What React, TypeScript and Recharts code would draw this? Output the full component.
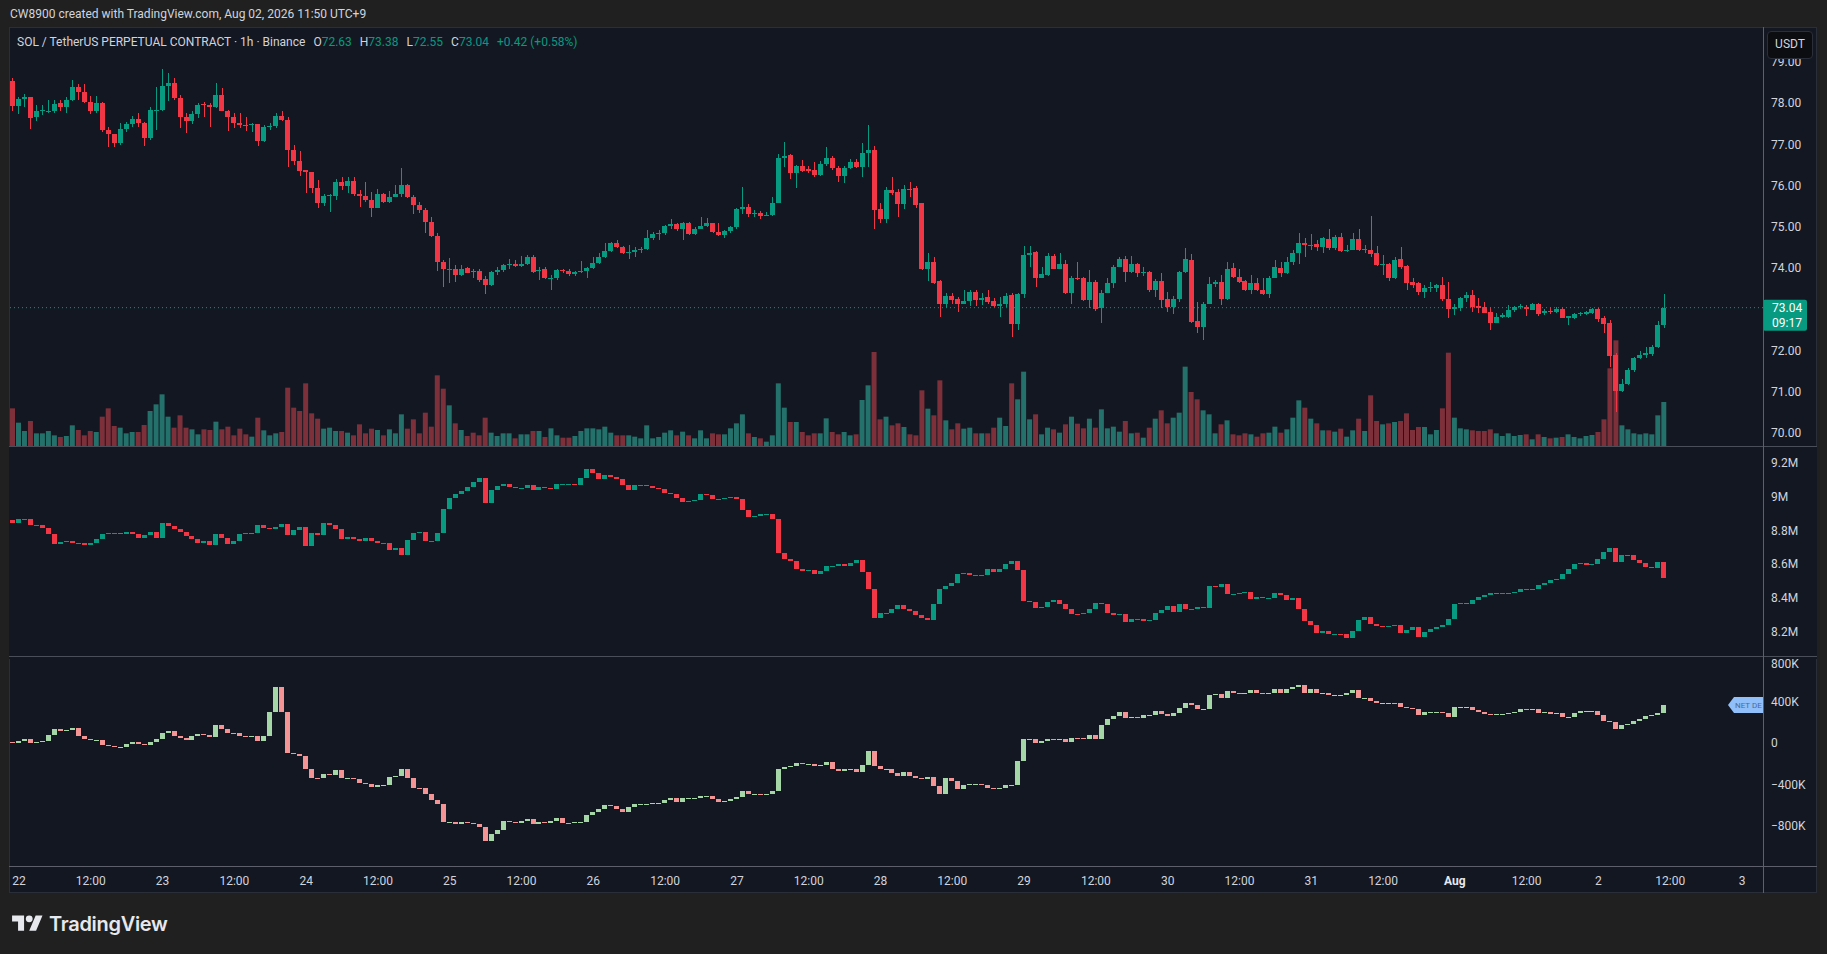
import React from 'react';
import { ComposedChart, Bar, XAxis, YAxis, Cell, ReferenceLine } from 'recharts';

// SOL/USDT perp, 1h candles, Jul 21 23:00 -> Aug 2 11:00 (UTC+9)
const priceOpen = [
  78.55, 77.94, 78.10, 78.16, 77.66, 77.82, 77.81, 77.82, 78.00, 77.92,
  78.08, 78.39, 78.28, 78.04, 77.80, 78.01, 77.35, 77.25, 77.04, 77.37,
  77.50, 77.61, 77.51, 77.16, 77.83, 77.84, 78.42, 78.50, 78.12, 77.67,
  77.57, 77.74, 77.98, 77.95, 77.90, 78.20, 77.82, 77.67, 77.53, 77.47,
  77.46, 77.50, 77.08, 77.42, 77.45, 77.69, 77.59, 76.87, 76.61, 76.38,
  76.32, 75.94, 75.59, 75.75, 75.75, 76.10, 75.98, 76.12, 75.80, 75.75,
  75.65, 75.45, 75.80, 75.61, 75.73, 75.80, 76.02, 75.72, 75.53, 75.41,
  75.13, 74.78, 74.16, 73.97, 73.97, 73.83, 74.00, 73.94, 73.93, 73.73,
  73.59, 73.90, 73.95, 74.07, 74.10, 74.05, 74.10, 74.28, 73.93, 73.97,
  73.75, 73.76, 73.95, 73.94, 73.86, 73.91, 73.94, 74.00, 74.13, 74.26,
  74.42, 74.62, 74.50, 74.37, 74.40, 74.44, 74.46, 74.74, 74.83, 74.86,
  75.01, 75.06, 74.96, 75.10, 74.82, 74.94, 75.02, 75.10, 74.88, 74.80,
  74.90, 75.00, 75.44, 75.49, 75.31, 75.34, 75.27, 75.30, 75.59, 76.68,
  76.75, 76.30, 76.48, 76.40, 76.38, 76.25, 76.53, 76.68, 76.43, 76.23,
  76.44, 76.57, 76.46, 76.80, 76.86, 75.43, 75.18, 75.90, 75.85, 75.55,
  75.93, 75.95, 75.59, 73.97, 74.16, 73.69, 73.13, 73.32, 73.24, 73.14,
  73.20, 73.43, 73.22, 73.30, 73.21, 73.09, 73.12, 73.34, 72.64, 73.37,
  74.32, 74.40, 73.77, 73.83, 74.29, 73.99, 74.10, 73.39, 73.75, 73.75,
  73.23, 73.67, 73.02, 73.40, 73.63, 74.03, 74.21, 73.90, 74.10, 73.87,
  73.90, 73.47, 73.69, 73.24, 73.06, 73.26, 73.90, 74.20, 72.72, 72.58,
  73.14, 73.61, 73.67, 73.24, 74.00, 73.79, 73.69, 73.47, 73.64, 73.48,
  73.37, 73.77, 74.00, 73.87, 74.16, 74.36, 74.62, 74.56, 74.58, 74.52,
  74.70, 74.48, 74.75, 74.42, 74.45, 74.70, 74.45, 74.45, 74.37, 74.07,
  74.10, 73.75, 74.21, 74.05, 73.66, 73.63, 73.43, 73.51, 73.51, 73.59,
  73.26, 73.00, 73.03, 73.27, 73.35, 73.07, 73.06, 72.94, 72.67, 72.82,
  72.82, 72.98, 73.05, 73.06, 72.99, 73.13, 72.90, 72.97, 72.93, 73.00,
  72.80, 72.80, 72.88, 72.89, 72.92, 73.00, 72.78, 72.66, 71.89, 71.02,
  71.20, 71.53, 71.81, 71.89, 71.92, 72.08, 72.63,
];

const priceHigh = [
  78.61, 78.16, 78.22, 78.16, 77.96, 77.96, 78.08, 78.08, 78.08, 78.14,
  78.56, 78.47, 78.47, 78.18, 78.18, 78.04, 77.43, 77.25, 77.51, 77.55,
  77.69, 77.76, 77.55, 77.90, 78.39, 78.82, 78.74, 78.61, 78.20, 77.76,
  77.80, 78.01, 78.04, 78.00, 78.50, 78.36, 77.84, 77.76, 77.76, 77.66,
  77.53, 77.50, 77.47, 77.51, 77.77, 77.82, 77.67, 76.99, 76.83, 76.38,
  76.34, 76.14, 75.80, 75.80, 76.15, 76.22, 76.22, 76.22, 75.89, 76.10,
  75.85, 75.91, 75.81, 75.88, 76.02, 76.42, 76.04, 75.77, 75.61, 75.45,
  75.25, 74.86, 74.20, 74.24, 74.07, 74.07, 74.03, 73.99, 73.97, 73.81,
  73.94, 74.03, 74.10, 74.21, 74.20, 74.29, 74.32, 74.32, 74.02, 74.02,
  73.83, 73.99, 73.99, 73.99, 73.94, 74.18, 74.03, 74.26, 74.37, 74.62,
  74.64, 74.68, 74.54, 74.56, 74.50, 74.50, 74.92, 74.88, 74.92, 75.05,
  75.18, 75.10, 75.13, 75.13, 75.00, 75.23, 75.21, 75.10, 75.09, 74.92,
  75.02, 75.47, 75.96, 75.56, 75.41, 75.39, 75.37, 75.73, 76.77, 77.07,
  76.76, 76.50, 76.62, 76.48, 76.58, 76.61, 76.93, 76.72, 76.48, 76.48,
  76.64, 76.64, 77.03, 77.47, 76.96, 75.59, 75.96, 76.22, 75.91, 76.02,
  76.10, 75.98, 75.59, 74.37, 74.26, 73.71, 73.40, 73.39, 73.29, 73.48,
  73.47, 73.47, 73.39, 73.47, 73.27, 73.29, 73.39, 73.39, 73.39, 74.54,
  74.54, 74.42, 74.03, 74.37, 74.34, 74.37, 74.20, 73.81, 74.16, 73.79,
  73.95, 73.71, 73.47, 73.75, 74.07, 74.26, 74.29, 74.29, 74.12, 74.03,
  73.94, 73.73, 73.87, 73.43, 73.32, 73.94, 74.48, 74.34, 73.18, 73.18,
  73.79, 73.71, 73.83, 74.16, 74.12, 73.97, 73.71, 73.83, 73.75, 73.77,
  73.81, 74.20, 74.16, 74.28, 74.44, 74.86, 74.72, 74.83, 74.68, 74.76,
  74.94, 74.80, 74.86, 74.56, 74.84, 74.94, 74.56, 75.26, 74.54, 74.32,
  74.12, 74.28, 74.52, 74.07, 73.75, 73.67, 73.59, 73.67, 73.61, 73.78,
  73.67, 73.14, 73.31, 73.43, 73.47, 73.27, 73.18, 73.06, 72.92, 72.92,
  73.10, 73.08, 73.13, 73.10, 73.16, 73.16, 73.00, 73.06, 73.05, 73.05,
  72.84, 72.92, 72.94, 72.97, 73.03, 73.02, 72.84, 72.74, 71.93, 71.32,
  71.57, 71.85, 72.00, 72.09, 72.13, 72.72, 73.38,
];

const priceLow = [
  77.82, 77.74, 77.92, 77.38, 77.57, 77.72, 77.76, 77.77, 77.80, 77.77,
  78.06, 78.08, 78.01, 77.74, 77.76, 77.31, 76.95, 76.95, 76.99, 77.31,
  77.43, 77.43, 76.97, 77.11, 77.35, 77.80, 78.06, 78.08, 77.39, 77.27,
  77.50, 77.63, 77.67, 77.43, 77.88, 77.80, 77.33, 77.39, 77.39, 77.33,
  77.31, 76.96, 77.07, 77.35, 77.39, 77.58, 76.45, 76.50, 76.23, 75.81,
  75.81, 75.45, 75.51, 75.37, 75.65, 75.89, 75.81, 75.75, 75.49, 75.61,
  75.23, 75.45, 75.57, 75.57, 75.73, 75.73, 75.69, 75.31, 75.34, 74.86,
  74.75, 73.94, 73.55, 73.65, 73.67, 73.81, 73.87, 73.75, 73.67, 73.37,
  73.57, 73.83, 73.90, 73.99, 74.02, 74.02, 74.07, 73.87, 73.71, 73.73,
  73.48, 73.71, 73.87, 73.81, 73.81, 73.89, 73.75, 73.97, 74.10, 74.24,
  74.40, 74.48, 74.34, 74.21, 74.26, 74.37, 74.44, 74.68, 74.68, 74.80,
  74.94, 74.91, 74.68, 74.80, 74.80, 74.94, 75.00, 74.86, 74.78, 74.74,
  74.84, 74.96, 75.31, 75.25, 75.23, 75.20, 75.26, 75.26, 75.57, 76.46,
  76.16, 75.94, 76.34, 76.30, 76.22, 76.23, 76.48, 76.38, 76.10, 76.07,
  76.40, 76.44, 76.22, 76.46, 74.96, 75.10, 75.10, 75.77, 75.23, 75.43,
  75.73, 75.47, 73.95, 73.69, 73.61, 72.82, 73.02, 73.14, 72.94, 73.13,
  73.08, 73.08, 73.10, 73.14, 73.06, 72.82, 73.06, 72.32, 72.50, 73.27,
  74.02, 73.53, 73.75, 73.81, 73.97, 73.97, 73.37, 73.14, 73.71, 73.21,
  73.02, 72.97, 72.67, 73.39, 73.51, 74.02, 73.67, 73.87, 73.78, 73.81,
  73.43, 73.31, 73.02, 72.94, 72.89, 73.18, 73.87, 72.68, 72.42, 72.25,
  73.13, 73.55, 73.10, 73.23, 73.75, 73.63, 73.45, 73.37, 73.45, 73.35,
  73.27, 73.75, 73.79, 73.86, 74.07, 74.10, 74.26, 74.44, 74.42, 74.37,
  74.44, 74.45, 74.40, 74.40, 74.44, 74.42, 74.37, 74.26, 74.05, 73.83,
  73.69, 73.73, 73.99, 73.47, 73.51, 73.35, 73.27, 73.43, 73.43, 73.21,
  72.78, 72.86, 72.97, 73.18, 72.94, 72.90, 72.90, 72.51, 72.66, 72.78,
  72.80, 72.94, 73.00, 72.84, 72.98, 72.84, 72.86, 72.89, 72.90, 72.78,
  72.62, 72.76, 72.84, 72.86, 72.89, 72.70, 72.42, 71.59, 70.52, 71.00,
  71.16, 71.49, 71.79, 71.81, 71.87, 72.05, 72.55,
];

const priceClose = [
  77.94, 78.10, 78.14, 77.65, 77.82, 77.84, 77.82, 77.98, 77.92, 78.08,
  78.39, 78.28, 78.04, 77.80, 78.01, 77.35, 77.25, 77.04, 77.37, 77.50,
  77.61, 77.51, 77.16, 77.84, 77.84, 78.42, 78.50, 78.12, 77.67, 77.57,
  77.74, 77.96, 77.95, 77.90, 78.20, 77.82, 77.67, 77.53, 77.46, 77.46,
  77.50, 77.08, 77.42, 77.45, 77.69, 77.59, 76.87, 76.61, 76.36, 76.32,
  75.94, 75.59, 75.75, 75.77, 76.10, 75.98, 76.12, 75.80, 75.75, 75.65,
  75.45, 75.80, 75.61, 75.73, 75.80, 76.02, 75.72, 75.53, 75.41, 75.13,
  74.78, 74.16, 73.97, 73.98, 73.83, 73.97, 73.89, 73.93, 73.71, 73.59,
  73.90, 73.95, 74.07, 74.10, 74.05, 74.09, 74.28, 73.91, 73.95, 73.75,
  73.76, 73.95, 73.94, 73.86, 73.91, 73.94, 74.00, 74.13, 74.26, 74.42,
  74.62, 74.50, 74.37, 74.40, 74.44, 74.46, 74.74, 74.83, 74.86, 75.01,
  75.06, 74.96, 75.09, 74.82, 74.94, 75.02, 75.10, 74.88, 74.80, 74.90,
  75.00, 75.44, 75.49, 75.31, 75.34, 75.27, 75.30, 75.59, 76.68, 76.72,
  76.30, 76.48, 76.36, 76.36, 76.25, 76.53, 76.68, 76.43, 76.23, 76.44,
  76.57, 76.46, 76.80, 76.86, 75.41, 75.18, 75.90, 75.82, 75.55, 75.93,
  75.90, 75.53, 73.97, 74.16, 73.65, 73.13, 73.32, 73.22, 73.14, 73.20,
  73.43, 73.22, 73.28, 73.18, 73.09, 73.12, 73.32, 72.64, 73.37, 74.32,
  74.37, 73.77, 73.85, 74.29, 73.99, 74.10, 73.39, 73.75, 73.73, 73.23,
  73.67, 73.00, 73.40, 73.63, 74.03, 74.21, 73.90, 74.10, 73.87, 73.90,
  73.47, 73.69, 73.23, 73.06, 73.26, 73.90, 74.21, 72.70, 72.58, 73.14,
  73.61, 73.67, 73.24, 73.97, 73.79, 73.67, 73.47, 73.64, 73.47, 73.37,
  73.77, 74.02, 73.87, 74.16, 74.36, 74.62, 74.56, 74.57, 74.52, 74.72,
  74.48, 74.75, 74.42, 74.45, 74.70, 74.45, 74.47, 74.34, 74.07, 74.09,
  73.75, 74.20, 74.02, 73.63, 73.59, 73.43, 73.51, 73.53, 73.59, 73.24,
  73.00, 73.06, 73.27, 73.35, 73.06, 73.03, 72.92, 72.67, 72.82, 72.86,
  72.98, 73.05, 73.08, 73.00, 73.13, 72.88, 72.96, 72.93, 73.00, 72.80,
  72.83, 72.88, 72.92, 72.94, 73.00, 72.76, 72.64, 71.87, 71.02, 71.20,
  71.53, 71.81, 71.89, 71.95, 72.09, 72.63, 73.04,
];

// volume, thousand SOL
const volume = [
  113, 70, 45, 75, 38, 38, 45, 32, 27, 30,
  62, 48, 32, 45, 42, 88, 113, 60, 55, 38,
  42, 42, 63, 105, 125, 155, 88, 55, 92, 55,
  50, 35, 50, 48, 73, 50, 58, 32, 52, 35,
  28, 85, 47, 32, 38, 42, 175, 115, 105, 188,
  98, 82, 52, 55, 45, 45, 40, 32, 65, 38,
  52, 48, 32, 50, 38, 95, 52, 80, 38, 100,
  58, 212, 172, 122, 68, 48, 30, 40, 32, 85,
  40, 30, 38, 38, 23, 35, 35, 45, 45, 27,
  53, 32, 25, 25, 30, 45, 53, 53, 50, 58,
  40, 32, 32, 32, 28, 23, 62, 23, 27, 40,
  47, 32, 43, 32, 23, 47, 23, 38, 35, 35,
  53, 68, 95, 38, 27, 23, 13, 32, 188, 115,
  72, 72, 42, 32, 38, 38, 83, 42, 35, 42,
  32, 35, 138, 182, 282, 80, 88, 62, 68, 57,
  35, 32, 167, 112, 92, 197, 77, 50, 68, 52,
  55, 38, 38, 38, 55, 85, 60, 188, 140, 223,
  80, 95, 35, 55, 50, 40, 65, 88, 67, 53,
  82, 55, 110, 53, 58, 43, 75, 38, 40, 25,
  55, 82, 107, 68, 85, 100, 238, 162, 140, 107,
  95, 38, 65, 77, 35, 32, 38, 35, 28, 38,
  40, 58, 40, 50, 85, 137, 115, 82, 68, 47,
  47, 43, 52, 28, 47, 82, 45, 152, 75, 65,
  68, 72, 75, 98, 48, 57, 57, 35, 48, 113,
  280, 85, 53, 50, 47, 45, 45, 50, 38, 30,
  38, 30, 33, 35, 20, 35, 27, 23, 25, 27,
  35, 27, 23, 30, 33, 42, 80, 233, 317, 62,
  50, 38, 35, 38, 35, 92, 132,
];

// open interest, millions
const oiFirstOpen = 8.862;
const oiClose = [
  8.842, 8.866, 8.870, 8.830, 8.830, 8.816, 8.777, 8.717, 8.733, 8.737,
  8.727, 8.723, 8.714, 8.727, 8.747, 8.777, 8.783, 8.787, 8.777, 8.793,
  8.781, 8.757, 8.773, 8.791, 8.757, 8.842, 8.826, 8.806, 8.793, 8.767,
  8.747, 8.727, 8.737, 8.712, 8.781, 8.757, 8.717, 8.737, 8.777, 8.787,
  8.783, 8.830, 8.812, 8.810, 8.820, 8.836, 8.771, 8.801, 8.820, 8.708,
  8.783, 8.771, 8.842, 8.830, 8.810, 8.747, 8.763, 8.751, 8.737, 8.757,
  8.737, 8.727, 8.727, 8.682, 8.698, 8.654, 8.741, 8.787, 8.791, 8.737,
  8.737, 8.787, 8.925, 8.990, 9.018, 9.034, 9.058, 9.087, 9.109, 8.965,
  9.038, 9.064, 9.074, 9.056, 9.050, 9.050, 9.070, 9.038, 9.058, 9.050,
  9.044, 9.074, 9.074, 9.074, 9.068, 9.109, 9.163, 9.139, 9.103, 9.127,
  9.119, 9.103, 9.068, 9.040, 9.070, 9.070, 9.064, 9.050, 9.044, 9.024,
  9.014, 8.990, 8.969, 8.975, 8.979, 9.014, 9.008, 8.988, 8.985, 8.990,
  8.998, 8.985, 8.919, 8.882, 8.886, 8.896, 8.896, 8.866, 8.668, 8.628,
  8.619, 8.573, 8.559, 8.565, 8.543, 8.559, 8.589, 8.589, 8.599, 8.589,
  8.605, 8.623, 8.555, 8.450, 8.282, 8.308, 8.312, 8.332, 8.356, 8.332,
  8.322, 8.296, 8.282, 8.268, 8.361, 8.450, 8.470, 8.490, 8.539, 8.549,
  8.536, 8.536, 8.536, 8.569, 8.553, 8.573, 8.603, 8.619, 8.565, 8.381,
  8.377, 8.342, 8.348, 8.375, 8.387, 8.365, 8.336, 8.306, 8.302, 8.312,
  8.332, 8.371, 8.365, 8.312, 8.296, 8.302, 8.257, 8.272, 8.276, 8.263,
  8.268, 8.308, 8.326, 8.352, 8.316, 8.361, 8.336, 8.336, 8.346, 8.342,
  8.470, 8.464, 8.480, 8.425, 8.425, 8.431, 8.435, 8.391, 8.407, 8.401,
  8.401, 8.431, 8.415, 8.387, 8.401, 8.332, 8.263, 8.237, 8.193, 8.203,
  8.183, 8.187, 8.183, 8.164, 8.203, 8.268, 8.288, 8.247, 8.233, 8.229,
  8.231, 8.237, 8.193, 8.207, 8.229, 8.170, 8.199, 8.217, 8.227, 8.239,
  8.272, 8.365, 8.371, 8.365, 8.387, 8.405, 8.415, 8.427, 8.423, 8.431,
  8.427, 8.435, 8.451, 8.454, 8.451, 8.474, 8.486, 8.506, 8.514, 8.539,
  8.573, 8.599, 8.605, 8.593, 8.599, 8.628, 8.672, 8.698, 8.615, 8.654,
  8.652, 8.623, 8.605, 8.583, 8.579, 8.613, 8.520,
];

// cumulative net delta, thousands
const deltaFirstOpen = 10;
const deltaClose = [
  3, 20, 36, -3, 10, 20, 77, 132, 116, 125,
  148, 68, 36, 26, 26, -22, -29, -38, -35, -6,
  13, -13, -22, 13, 36, 100, 116, 68, 52, 29,
  68, 84, 74, 58, 174, 132, 100, 93, 68, 61,
  68, 20, 68, 302, 540, 302, -99, -109, -125, -254,
  -334, -340, -302, -308, -260, -334, -334, -344, -382, -392,
  -421, -408, -405, -327, -318, -247, -334, -430, -437, -495,
  -552, -591, -761, -758, -784, -758, -768, -777, -810, -944,
  -880, -842, -752, -758, -768, -752, -736, -777, -758, -768,
  -752, -726, -768, -774, -761, -758, -697, -665, -639, -601,
  -607, -633, -662, -617, -591, -591, -591, -581, -575, -549,
  -527, -568, -527, -527, -527, -511, -511, -543, -568, -559,
  -536, -517, -463, -495, -495, -504, -495, -463, -254, -228,
  -222, -189, -205, -205, -222, -215, -183, -254, -270, -254,
  -247, -279, -215, -77, -222, -254, -247, -286, -318, -279,
  -318, -334, -350, -324, -414, -488, -340, -366, -440, -408,
  -398, -398, -408, -430, -446, -430, -408, -408, -173, 36,
  42, 3, 20, 42, 29, 36, 10, 48, 45, 36,
  74, 36, 170, 228, 261, 299, 244, 254, 244, 267,
  267, 309, 283, 261, 293, 341, 383, 363, 325, 331,
  460, 469, 437, 501, 479, 469, 479, 511, 485, 479,
  485, 518, 485, 524, 543, 556, 479, 518, 479, 485,
  460, 460, 460, 479, 511, 437, 437, 405, 389, 389,
  389, 383, 347, 341, 325, 267, 302, 302, 302, 286,
  254, 347, 347, 347, 318, 299, 277, 267, 277, 283,
  293, 302, 325, 315, 325, 293, 299, 283, 286, 254,
  254, 293, 309, 309, 309, 267, 212, 203, 132, 171,
  180, 212, 235, 261, 267, 293, 367,
];

// time axis: first slot is Jul 21 23:00, one slot per hour, empty slots after the last candle
const dayLabels = ['22', '23', '24', '25', '26', '27', '28', '29', '30', '31', 'Aug', '2', '3'];
const SLOTS = 293;

const priceTicks = [70, 71, 72, 74, 75, 76, 77, 78, 79];
const oiTicks = [8.2, 8.4, 8.6, 8.8, 9.0, 9.2];
const deltaTicks = [-800, -400, 0, 400, 800];

const UP = '#089981';
const DOWN = '#f23645';
const VOL_UP = '#24706a';
const VOL_DOWN = '#7e303a';
const ND_UP = '#a5d6a7';
const ND_DOWN = '#f49494';
const BG = '#131722';
const LINE = '#4a4e59';
const TEXT = '#d1d4dc';
const FONT = 'Roboto, "Noto Sans", sans-serif';

const rows = Array.from({ length: SLOTS }, (_, i) => {
  if (i >= priceClose.length) return { i };
  const oo = i === 0 ? oiFirstOpen : oiClose[i - 1];
  const dop = i === 0 ? deltaFirstOpen : deltaClose[i - 1];
  return {
    i,
    o: priceOpen[i], h: priceHigh[i], l: priceLow[i], c: priceClose[i],
    v: volume[i],
    oo, oc: oiClose[i], oh: Math.max(oo, oiClose[i]), ol: Math.min(oo, oiClose[i]),
    no: dop, nc: deltaClose[i], nh: Math.max(dop, deltaClose[i]), nl: Math.min(dop, deltaClose[i]),
  };
});

const timeTicks: number[] = [];
const timeTickLabel: Record<number, string> = {};
dayLabels.forEach((d, k) => {
  timeTicks.push(1 + 24 * k);
  timeTickLabel[1 + 24 * k] = d;
  if (k < dayLabels.length - 1) {
    timeTicks.push(13 + 24 * k);
    timeTickLabel[13 + 24 * k] = '12:00';
  }
});

type Keys = { o: string; h: string; l: string; c: string };

function candleShape(k: Keys, up: string, down: string) {
  return (p: any) => {
    const d = p.payload;
    if (!d || d[k.o] == null || !isFinite(p.y) || !isFinite(p.height)) return <g />;
    const o = d[k.o], h = d[k.h], l = d[k.l], c = d[k.c];
    const top = Math.min(p.y, p.y + p.height);
    const bot = Math.max(p.y, p.y + p.height);
    const span = h - l;
    const py = (v: number) => (span > 0 ? top + ((h - v) / span) * (bot - top) : top);
    const color = c >= o ? up : down;
    const yo = py(o);
    const yc = py(c);
    const cx = Math.round(p.x + p.width / 2) + 0.5;
    return (
      <g shapeRendering="crispEdges">
        <line x1={cx} x2={cx} y1={top} y2={Math.max(bot, top + 1)} stroke={color} strokeWidth={1} />
        <rect x={p.x} y={Math.min(yo, yc)} width={p.width} height={Math.max(1, Math.abs(yo - yc))} fill={color} />
      </g>
    );
  };
}

const axisTick = { fill: TEXT, fontSize: 12, fontFamily: FONT };

const lastClose = priceClose[priceClose.length - 1];
const lastDelta = deltaClose[deltaClose.length - 1];

function LastPriceLine(p: any) {
  const left = Math.min(p.x1, p.x2);
  const right = Math.max(p.x1, p.x2);
  const y = p.y1;
  if (!isFinite(y)) return <g />;
  return (
    <g>
      <line x1={left} x2={right} y1={y} y2={y} stroke={UP} strokeWidth={1} strokeDasharray="1 3" />
      <rect x={right} y={y - 8} width={44} height={31} rx={2} fill={UP} />
      <text x={right + 9} y={y + 4} fill="#ffffff" fontSize={12} fontFamily={FONT}>{lastClose.toFixed(2)}</text>
      <text x={right + 9} y={y + 19} fill="#ffffff" fontSize={12} fontFamily={FONT}>09:17</text>
    </g>
  );
}

function NetDeltaTag(p: any) {
  const right = Math.max(p.x1, p.x2);
  const y = p.y1;
  if (!isFinite(y)) return <g />;
  return (
    <g>
      <path d={`M${right - 35},${y} L${right - 29},${y - 8} L${right},${y - 8} L${right},${y + 8} L${right - 29},${y + 8} Z`} fill="#90bff9" />
      <text x={right - 28} y={y + 3} fill="#4d6a95" fontSize={8} fontFamily={FONT}>NET DE</text>
    </g>
  );
}

function TimeTick(p: any) {
  const label = timeTickLabel[p.payload.value] ?? '';
  const bold = label === 'Aug';
  return (
    <text x={p.x} y={p.y} dy="0.71em" textAnchor="middle" fill={bold ? '#e6e8ee' : TEXT}
      fontSize={12} fontWeight={bold ? 700 : 400} fontFamily={FONT}>{label}</text>
  );
}

const W = 1808;
const M = { top: 0, right: 0, left: 1, bottom: 0 };

export default function App() {
  return (
    <div style={{ position: 'fixed', left: 0, top: 0, width: 1827, height: 954, background: '#202020', fontFamily: FONT, overflow: 'hidden' }}>
      <div style={{ position: 'absolute', left: 10, top: 7, color: TEXT, fontSize: 12 }}>
        CW8900 created with TradingView.com, Aug 02, 2026 11:50 UTC+9
      </div>

      <div style={{ position: 'absolute', left: 9, top: 27, width: W, height: 866, background: BG, border: '1px solid #2a2e39', boxSizing: 'border-box' }} />

      {/* net delta pane + time axis */}
      <div style={{ position: 'absolute', left: 9, top: 656 }}>
        <ComposedChart width={W} height={237} data={rows} margin={M}>
          <XAxis dataKey="i" type="category" ticks={timeTicks} interval={0} height={27}
            axisLine={false} tickLine={false} tickMargin={4} tick={<TimeTick />} />
          <YAxis orientation="right" width={54} domain={[-1185.5, 838.6]} allowDataOverflow
            ticks={deltaTicks} tickFormatter={(v: number) => (v === 0 ? '0' : (v < 0 ? '\u2212' : '') + Math.abs(v) + 'K')}
            axisLine={false} tickLine={false} tick={axisTick} />
          <Bar dataKey={(d: any) => (d.nc == null ? null : [d.nl, d.nh])} barSize={5} isAnimationActive={false}
            shape={candleShape({ o: 'no', h: 'nh', l: 'nl', c: 'nc' }, ND_UP, ND_DOWN)} />
          <ReferenceLine y={lastDelta} shape={<NetDeltaTag />} />
        </ComposedChart>
      </div>

      {/* open interest pane (its background also trims the top of the pane below) */}
      <div style={{ position: 'absolute', left: 9, top: 446, background: BG }}>
        <ComposedChart width={W} height={213} data={rows} margin={{ ...M, bottom: 3 }}>
          <XAxis dataKey="i" type="category" hide />
          <YAxis orientation="right" width={54} domain={[8.0546, 9.301]} allowDataOverflow
            ticks={oiTicks} tickFormatter={(v: number) => (Math.abs(v - 9) < 1e-9 ? '9M' : v.toFixed(1) + 'M')}
            axisLine={false} tickLine={false} tick={axisTick} />
          <Bar dataKey={(d: any) => (d.oc == null ? null : [d.ol, d.oh])} barSize={5} isAnimationActive={false}
            shape={candleShape({ o: 'oo', h: 'oh', l: 'ol', c: 'oc' }, UP, DOWN)} />
        </ComposedChart>
      </div>

      {/* price pane with volume */}
      <div style={{ position: 'absolute', left: 9, top: 28 }}>
        <ComposedChart width={W} height={418} data={rows} margin={M}>
          <XAxis dataKey="i" type="category" hide />
          <XAxis dataKey="i" type="category" xAxisId="vol" hide />
          <YAxis yAxisId="p" orientation="right" width={54} domain={[69.684, 79.825]} allowDataOverflow
            ticks={priceTicks} tickFormatter={(v: number) => v.toFixed(2)}
            axisLine={false} tickLine={false} tick={axisTick} />
          <YAxis yAxisId="v" hide domain={[0, 1254]} allowDataOverflow />
          <Bar dataKey="v" yAxisId="v" xAxisId="vol" barSize={5} isAnimationActive={false}>
            {rows.map((r: any, i) => (
              <Cell key={i} fill={r.c == null ? 'transparent' : r.c >= r.o ? VOL_UP : VOL_DOWN} />
            ))}
          </Bar>
          <Bar yAxisId="p" dataKey={(d: any) => (d.c == null ? null : [d.l, d.h])} barSize={5} isAnimationActive={false}
            shape={candleShape({ o: 'o', h: 'h', l: 'l', c: 'c' }, UP, DOWN)} />
          <ReferenceLine yAxisId="p" y={lastClose} shape={<LastPriceLine />} />
        </ComposedChart>
      </div>

      {/* pane separators and scale border */}
      <div style={{ position: 'absolute', left: 9, top: 446, width: W, height: 1, background: LINE }} />
      <div style={{ position: 'absolute', left: 9, top: 656, width: W, height: 1, background: LINE }} />
      <div style={{ position: 'absolute', left: 9, top: 866, width: W, height: 1, background: '#5d606b' }} />
      <div style={{ position: 'absolute', left: 1763, top: 27, width: 1, height: 866, background: '#5d606b' }} />

      {/* legend */}
      <div style={{ position: 'absolute', left: 17, top: 35, fontSize: 12, color: TEXT, whiteSpace: 'nowrap' }}>
        <span>SOL / TetherUS PERPETUAL CONTRACT · 1h · Binance</span>
        <span style={{ marginLeft: 8 }}>O<span style={{ color: UP }}>72.63</span></span>
        <span style={{ marginLeft: 8 }}>H<span style={{ color: UP }}>73.38</span></span>
        <span style={{ marginLeft: 8 }}>L<span style={{ color: UP }}>72.55</span></span>
        <span style={{ marginLeft: 8 }}>C<span style={{ color: UP }}>73.04</span></span>
        <span style={{ marginLeft: 8, color: UP }}>+0.42 (+0.58%)</span>
      </div>

      {/* currency button */}
      <div style={{ position: 'absolute', left: 1767, top: 31, width: 46, height: 28, boxSizing: 'border-box', background: '#0c0d10',
        border: '1px solid #2a2e39', borderRadius: 4, color: TEXT, fontSize: 12, lineHeight: '25px', textAlign: 'center' }}>
        USDT
      </div>

      {/* branding */}
      <div style={{ position: 'absolute', left: 12, top: 912, display: 'flex', alignItems: 'center', color: '#e6e8ee' }}>
        <svg width={31} height={24} viewBox="0 0 36 28" fill="#e6e8ee">
          <path d="M14 22H7V11H0V4h14v18zM28 22h-8l7.5-18h8L28 22z" />
          <circle cx="20" cy="8" r="4" />
        </svg>
        <span style={{ marginLeft: 6, fontSize: 20, fontWeight: 600, fontFamily: 'Inter, Roboto, sans-serif', letterSpacing: -0.3 }}>TradingView</span>
      </div>
    </div>
  );
}
